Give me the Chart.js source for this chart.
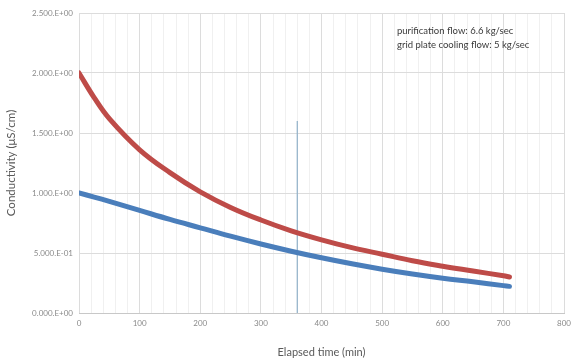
<!DOCTYPE html>
<html>
<head>
<meta charset="utf-8">
<script src="https://cdn.jsdelivr.net/npm/chart.js@4"></script>
<style>
  html, body { margin: 0; padding: 0; background: #fff; }
  #wrap { width: 577px; height: 363px; position: relative; }
</style>
</head>
<body>
<div id="wrap"><canvas id="condChart" width="577" height="363"></canvas></div>
<script>
// elapsed time (min) and conductivity readings (uS/cm)
const times = [0, 25, 50, 100, 150, 200, 250, 300, 350, 400, 450, 500, 550, 600, 650, 700, 710];
const redValues = [2.00, 1.795, 1.62, 1.36, 1.17, 1.01, 0.88, 0.775, 0.685, 0.61, 0.545, 0.49, 0.435, 0.39, 0.35, 0.31, 0.30];
const blueValues = [1.00, 0.966, 0.93, 0.855, 0.78, 0.71, 0.64, 0.575, 0.515, 0.46, 0.41, 0.365, 0.325, 0.29, 0.26, 0.228, 0.222];

// the vertical marker line
const markerTime = 360;
const markerTop = 1.6;

const yTickValues = [0, 0.5, 1.0, 1.5, 2.0, 2.5];
const yTickLabels = ["0.000.E+00", "5.000.E-01", "1.000.E+00", "1.500.E+00", "2.000.E+00", "2.500.E+00"];
const xTickLabels = ["0", "100", "200", "300", "400", "500", "600", "700", "800"];

const noteLines = ["purification flow: 6.6 kg/sec", "grid plate cooling flow: 5 kg/sec"];

const redPts = times.map((t, i) => ({ x: t, y: redValues[i] }));
const bluePts = times.map((t, i) => ({ x: t, y: blueValues[i] }));

const notePlugin = {
  id: "note",
  afterDraw(chart) {
    const ctx = chart.ctx;
    ctx.save();
    ctx.fillStyle = "#3a3a3a";
    ctx.font = "9.5px Lato, 'Open Sans', sans-serif";
    ctx.textBaseline = "middle";
    ctx.fillText(noteLines[0], 397, 31);
    ctx.fillText(noteLines[1], 397, 45);
    ctx.restore();
  }
};

new Chart("condChart", {
  type: "line",
  data: {
    datasets: [
      {
        data: bluePts,
        borderColor: "#4a7ebb",
        borderWidth: 5,
        pointRadius: 0,
        tension: 0.4,
        borderCapStyle: "round"
      },
      {
        data: redPts,
        borderColor: "#be4b48",
        borderWidth: 5,
        pointRadius: 0,
        tension: 0.4,
        borderCapStyle: "round"
      },
      {
        data: [{ x: markerTime, y: 0 }, { x: markerTime, y: markerTop }],
        borderColor: "#8fb0c8",
        borderWidth: 1.2,
        pointRadius: 0
      }
    ]
  },
  plugins: [notePlugin],
  options: {
    responsive: false,
    animation: false,
    layout: { padding: { left: 0, top: 13, right: 12, bottom: 0 } },
    plugins: { legend: { display: false }, tooltip: { enabled: false } },
    scales: {
      x: {
        type: "linear",
        min: 0,
        max: 800,
        afterFit(scale) { scale.height = 50; },
        afterBuildTicks(scale) {
          const ticks = [];
          for (let v = 0; v <= 800; v += 20) ticks.push({ value: v });
          scale.ticks = ticks;
        },
        ticks: {
          autoSkip: false,
          maxRotation: 0,
          padding: 6,
          color: "#8a8a8a",
          font: { size: 8, family: "Lato, 'Open Sans', sans-serif" },
          callback: (v) => (v % 100 === 0 ? xTickLabels[v / 100] : "")
        },
        grid: {
          drawTicks: false,
          color: (c) => (c.tick && c.tick.value % 100 === 0 ? "#dcdcdc" : "#f0f0f0")
        },
        border: { color: "#c8c8c8" },
        title: {
          display: true,
          text: "Elapsed time (min)",
          color: "#595959",
          font: { size: 11, family: "Lato, 'Open Sans', sans-serif" },
          padding: { top: 8 }
        }
      },
      y: {
        min: 0,
        max: 2.5,
        afterFit(scale) { scale.width = 79; },
        afterBuildTicks(scale) {
          scale.ticks = yTickValues.map((v) => ({ value: v }));
        },
        ticks: {
          padding: 6,
          color: "#8a8a8a",
          font: { size: 8, family: "Lato, 'Open Sans', sans-serif" },
          callback: (v) => yTickLabels[yTickValues.indexOf(v)]
        },
        grid: { drawTicks: false, color: "#dcdcdc" },
        border: { display: false },
        title: {
          display: true,
          text: "Conductivity (μS/cm)",
          color: "#595959",
          font: { size: 11.5, family: "Lato, 'Open Sans', sans-serif" },
          padding: { bottom: 4 }
        }
      }
    }
  }
});
</script>
</body>
</html>
